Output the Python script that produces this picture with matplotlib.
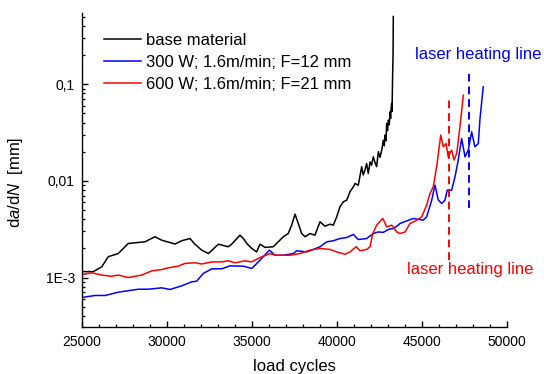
import matplotlib
matplotlib.use("Agg")
import matplotlib.pyplot as plt
from matplotlib.ticker import FixedLocator, LogLocator, NullFormatter, MultipleLocator

plt.rcParams['font.family'] = ['Liberation Sans', 'DejaVu Sans']
plt.rcParams['mathtext.fontset'] = 'custom'
plt.rcParams['mathtext.rm'] = 'Liberation Sans'
plt.rcParams['mathtext.it'] = 'Liberation Sans:italic'

black_x = [25000, 25680, 26180, 26560, 27150, 27740, 28720, 29310, 29710, 30490, 30880, 31370, 31660,
           32060, 32450, 33040, 33620, 33820, 34310, 34510, 34710, 35000, 35290, 35490, 35780, 36270,
           36560, 36860, 37150, 37350, 37550, 37740, 37940, 38140, 38430, 38720, 39020, 39310, 39600,
           39800, 40000, 40190, 40390, 40590, 40780, 40980, 41080, 41270, 41470, 41560, 41660, 41760,
           41860, 41960, 42050, 42150, 42250, 42350, 42450, 42550, 42650, 42740, 42800, 42840, 42900,
           42940, 42990, 43040, 43090, 43140, 43170, 43200, 43235, 43255, 43275, 43295, 43315, 43330]
black_y = [1.15e-3, 1.15e-3, 1.29e-3, 1.64e-3, 1.77e-3, 2.25e-3, 2.34e-3, 2.64e-3, 2.43e-3, 2.22e-3,
           2.40e-3, 2.53e-3, 2.21e-3, 1.92e-3, 1.77e-3, 2.21e-3, 2.08e-3, 2.21e-3, 2.74e-3, 2.53e-3,
           2.25e-3, 2.0e-3, 1.84e-3, 2.21e-3, 2.05e-3, 2.08e-3, 2.34e-3, 2.64e-3, 2.85e-3, 3.48e-3,
           4.52e-3, 3.62e-3, 2.85e-3, 2.64e-3, 2.85e-3, 2.74e-3, 3.77e-3, 3.39e-3, 3.56e-3, 3.48e-3,
           4.24e-3, 5.38e-3, 6.07e-3, 6.31e-3, 7.69e-3, 8.67e-3, 9.37e-3, 9.02e-3, 1.40e-2, 1.15e-2,
           1.29e-2, 1.51e-2, 1.19e-2, 1.57e-2, 1.45e-2, 1.77e-2, 1.55e-2, 1.40e-2, 2.0e-2, 1.75e-2,
           2.08e-2, 2.63e-2, 2.3e-2, 2.97e-2, 2.6e-2, 3.92e-2, 3.3e-2, 4.24e-2, 3.8e-2, 5.18e-2,
           4.4e-2, 5.6e-2, 6.31e-2, 5.2e-2, 0.085, 0.14, 0.2, 0.5]

blue_x = [25000, 25780, 26370, 27150, 28330, 28920, 29710, 30190, 30880, 31470, 31760, 32150, 32650,
          33240, 33720, 34510, 35000, 35490, 36040, 36370, 36860, 37450, 37650, 38240, 38620, 39020,
          39410, 39800, 40190, 40590, 40980, 41270, 41760, 42150, 42450, 42740, 43040, 43330, 43620,
          43720, 44500, 45090, 45290, 45590, 45780, 45980, 46180, 46370, 46500, 46760, 46960, 47150,
          47350, 47550, 47740, 47940, 48130, 48330, 48430, 48620]
blue_y = [6.21e-4, 6.52e-4, 6.52e-4, 7.05e-4, 7.57e-4, 7.57e-4, 7.82e-4, 7.52e-4, 8.20e-4, 9.02e-4,
          9.16e-4, 1.10e-3, 1.23e-3, 1.23e-3, 1.32e-3, 1.31e-3, 1.24e-3, 1.51e-3, 1.92e-3, 1.70e-3,
          1.70e-3, 1.77e-3, 1.89e-3, 1.84e-3, 1.95e-3, 2.08e-3, 2.34e-3, 2.40e-3, 2.53e-3, 2.59e-3,
          2.79e-3, 2.47e-3, 2.53e-3, 2.85e-3, 2.96e-3, 2.93e-3, 3.14e-3, 3.21e-3, 3.48e-3, 3.62e-3,
          4.08e-3, 3.92e-3, 4.24e-3, 6.31e-3, 9.02e-3, 6.31e-3, 5.83e-3, 6.31e-3, 8.0e-3, 8.0e-3,
          1.10e-2, 1.64e-2, 2.74e-2, 1.77e-2, 2.08e-2, 3.21e-2, 2.25e-2, 2.43e-2, 4.41e-2, 9.38e-2]

red_x = [25000, 25590, 26180, 26760, 27150, 27740, 28530, 29120, 29710, 30090, 30680, 31080, 31660,
         32060, 32650, 33240, 33620, 34020, 34610, 35000, 35490, 36080, 36470, 37250, 37840, 38430,
         39020, 39610, 40000, 40490, 40780, 41140, 41370, 41760, 41960, 42120, 42350, 42710, 42940,
         43240, 43530, 43720, 44020, 44310, 44710, 45000, 45290, 45490, 45680, 45880, 46120, 46270,
         46430, 46560, 46760, 46900, 47060, 47250, 47450]
red_y = [1.07e-3, 1.12e-3, 1.06e-3, 1.03e-3, 1.06e-3, 1.0e-3, 1.06e-3, 1.17e-3, 1.21e-3, 1.26e-3,
         1.31e-3, 1.40e-3, 1.42e-3, 1.38e-3, 1.45e-3, 1.45e-3, 1.49e-3, 1.42e-3, 1.49e-3, 1.45e-3,
         1.61e-3, 1.77e-3, 1.70e-3, 1.70e-3, 1.77e-3, 1.92e-3, 2.0e-3, 1.95e-3, 1.84e-3, 1.74e-3,
         1.84e-3, 2.08e-3, 1.89e-3, 1.95e-3, 2.08e-3, 2.85e-3, 3.48e-3, 4.08e-3, 3.34e-3, 3.48e-3,
         2.96e-3, 2.85e-3, 2.96e-3, 3.62e-3, 3.92e-3, 4.24e-3, 5.60e-3, 7.40e-3, 8.67e-3, 1.40e-2,
         2.97e-2, 2.25e-2, 2.43e-2, 1.77e-2, 2.08e-2, 1.64e-2, 1.92e-2, 3.62e-2, 7.69e-2]

labels = ["base material", "300 W; 1.6m/min; F=12 mm", "600 W; 1.6m/min; F=21 mm"]
blue_mark_x = 47800
blue_mark_y = [5.2e-3, 0.145]
red_mark_x = 46600
red_mark_y = [1.51e-3, 0.071]
y_ticks = [1e-3, 1e-2, 1e-1]
y_ticklabels = ["1E-3", "0,01", "0,1"]
x_ticks = [25000, 30000, 35000, 40000, 45000, 50000]

W, H = 544, 374
fig = plt.figure(figsize=(W / 100, H / 100), dpi=100)
ax = fig.add_axes([81.7 / W, 1 - 326.7 / H, (506.7 - 81.7) / W, (326.7 - 13.3) / H])

lw = 1.1
ax.plot(black_x, black_y, color='black', lw=lw, label=labels[0])
ax.plot(blue_x, blue_y, color='#0000ff', lw=lw, label=labels[1])
ax.plot(red_x, red_y, color='#ff0000', lw=lw, label=labels[2])

ax.plot([blue_mark_x, blue_mark_x], blue_mark_y, color='#0000ff', lw=1.4, dashes=(4, 2.5))
ax.plot([red_mark_x, red_mark_x], red_mark_y, color='#ff0000', lw=1.4, dashes=(4, 2.5))

ax.set_yscale('log')
ax.set_xlim(25000, 50000)
ax.set_ylim(3.1e-4, 0.54)

ax.yaxis.set_major_locator(FixedLocator(y_ticks))
ax.set_yticklabels(y_ticklabels)
ax.yaxis.set_minor_locator(LogLocator(base=10, subs=[2, 3, 4, 5, 6, 7, 8, 9]))
ax.yaxis.set_minor_formatter(NullFormatter())
ax.set_xticks(x_ticks)
ax.set_xticklabels([str(v) for v in x_ticks])
ax.xaxis.set_minor_locator(MultipleLocator(1000))

for s in ['top', 'right']:
    ax.spines[s].set_visible(False)
for s in ['left', 'bottom']:
    ax.spines[s].set_linewidth(1.0)

ax.tick_params(which='major', direction='in', length=4.5, width=1.0, labelsize=10, pad=5)
ax.tick_params(which='minor', direction='in', length=2.5, width=0.9)
ax.tick_params(axis='x', which='major', pad=6)

fig.text(294.2 / W, 1 - 367 / H, "load cycles", ha='center', va='center', fontsize=12)
fig.text(15.6 / W, 1 - 182 / H, r"d$\it{a}$/d$\it{N}$  [mm]", rotation=90,
         ha='center', va='center', fontsize=12)

fig.text(415 / W, 1 - 54 / H, "laser heating line", color='#0000ff', ha='left', va='center', fontsize=12)
fig.text(406.7 / W, 1 - 269.3 / H, "laser heating line", color='#ff0000', ha='left', va='center', fontsize=12)

leg = ax.legend(loc='upper left', bbox_to_anchor=(104 / W, 1 - 33 / H), bbox_transform=fig.transFigure,
                frameon=False, borderpad=0, borderaxespad=0, handlelength=2.2, handletextpad=0.35,
                labelspacing=0.42, fontsize=12)

fig.savefig("out.png", dpi=100)
